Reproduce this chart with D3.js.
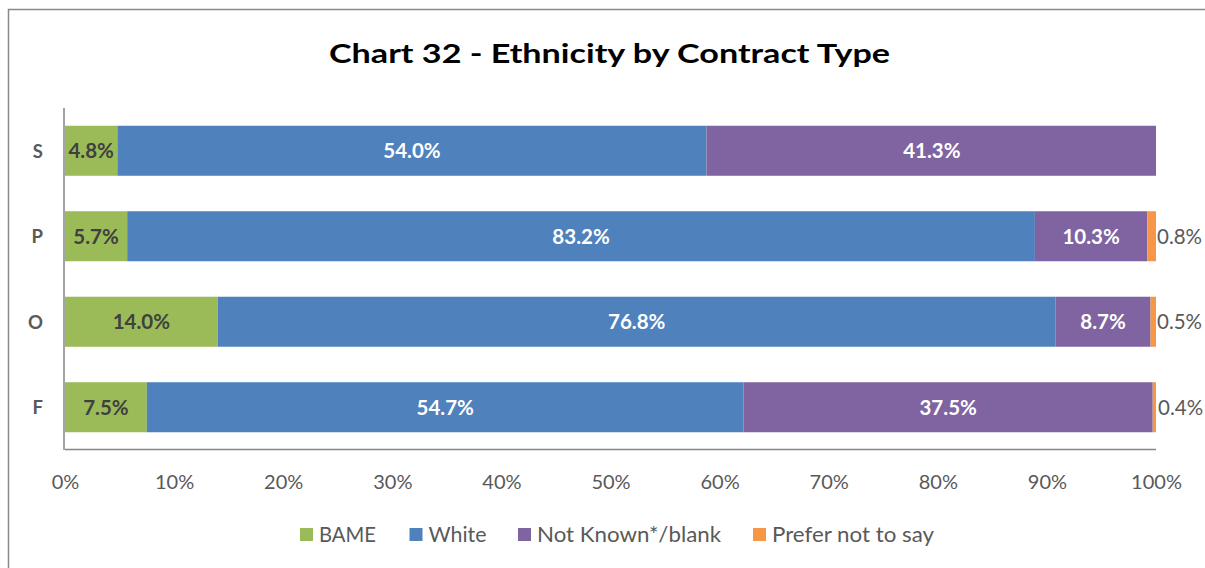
<!DOCTYPE html>
<html>
<head>
<meta charset="utf-8">
<script src="https://cdn.jsdelivr.net/npm/d3@7"></script>
<style>
  html, body { margin: 0; padding: 0; background: #fff; }
  svg { display: block; }
  text { font-family: Lato, "Open Sans", sans-serif; }
</style>
</head>
<body>
<svg id="chart" width="1205" height="568"></svg>
<script>
// ---- Data ----
const title = "Chart 32 - Ethnicity by Contract Type";
const categories = ["S", "P", "O", "F"];
const seriesNames = ["BAME", "White", "Not Known*/blank", "Prefer not to say"];
const bame = [4.8, 5.7, 14.0, 7.5];
const white = [54.0, 83.2, 76.8, 54.7];
const notKnown = [41.3, 10.3, 8.7, 37.5];
const preferNot = [null, 0.8, 0.5, 0.4];
const tickValues = [0, 10, 20, 30, 40, 50, 60, 70, 80, 90, 100];

const colors = ["#9BBB59", "#4F81BD", "#8064A2", "#F79646"];
const labelColors = ["#404040", "#ffffff", "#ffffff", "#595959"];

const svg = d3.select("#chart");
const W = 1205, H = 568;
const plot = { left: 65, right: 1156, top: 108, bottom: 450 };

// chart border
svg.append("rect")
  .attr("x", 8.5).attr("y", 9.5)
  .attr("width", W + 20).attr("height", H + 20)
  .attr("fill", "#fff").attr("stroke", "#898989").attr("stroke-width", 1.5);

// title
svg.append("text")
  .attr("x", 329).attr("y", 63)
  .attr("text-anchor", "start")
  .attr("font-size", 26).attr("font-weight", "bold")
  .attr("fill", "#000")
  .attr("textLength", 561)
  .attr("lengthAdjust", "spacingAndGlyphs")
  .text(title);

const x = d3.scaleLinear().domain([0, 100]).range([plot.left, plot.right]);
const y = d3.scaleBand().domain(categories)
  .range([plot.top, plot.bottom])
  .paddingInner(0.415).paddingOuter(0.2076);

const seriesData = [bame, white, notKnown, preferNot];

// stacked rows
const rows = categories.map((c, i) => {
  let acc = 0;
  return seriesData.map((s, k) => {
    const v = s[i] == null ? 0 : s[i];
    const seg = { cat: c, k, v, raw: s[i], x0: acc, x1: acc + v };
    acc += v;
    return seg;
  });
});

const segs = rows.flat().filter(d => d.v > 0);

svg.append("g").selectAll("rect")
  .data(segs)
  .join("rect")
  .attr("x", d => x(d.x0))
  .attr("y", d => y(d.cat))
  .attr("width", d => Math.max(0, x(Math.min(100, d.x1)) - x(d.x0)))
  .attr("height", y.bandwidth())
  .attr("fill", d => colors[d.k]);

// labels
svg.append("g").selectAll("text")
  .data(segs)
  .join("text")
  .attr("x", d => d.k === 3 ? x(d.x1) + 1 : (x(d.x0) + x(d.x1)) / 2)
  .attr("y", d => y(d.cat) + y.bandwidth() / 2)
  .attr("dy", "0.37em")
  .attr("text-anchor", d => d.k === 3 ? "start" : "middle")
  .attr("font-size", d => d.k === 3 ? 20.5 : 20.5)
  .attr("font-weight", d => d.k === 3 ? "normal" : "bold")
  .attr("fill", d => labelColors[d.k])
  .text(d => d.raw.toFixed(1) + "%");

// category labels
svg.append("g").selectAll("text")
  .data(categories)
  .join("text")
  .attr("x", 43)
  .attr("y", d => y(d) + y.bandwidth() / 2)
  .attr("dy", "0.37em")
  .attr("text-anchor", "end")
  .attr("font-size", 18.5).attr("font-weight", "bold")
  .attr("fill", "#595959")
  .text(d => d);

// x axis
const xAxis = d3.axisBottom(x)
  .tickValues(tickValues)
  .tickFormat(d => d + "%")
  .tickSize(0)
  .tickPadding(26);

const gx = svg.append("g").attr("transform", `translate(0,${plot.bottom - 1})`).call(xAxis);
gx.select(".domain").remove();
gx.selectAll("text")
  .attr("font-family", "Lato, 'Open Sans', sans-serif")
  .attr("font-size", 20).attr("fill", "#595959");

// axis lines
svg.append("line")
  .attr("x1", plot.left).attr("x2", plot.right)
  .attr("y1", plot.bottom - 0.5).attr("y2", plot.bottom - 0.5)
  .attr("stroke", "#868686").attr("stroke-width", 1.5);
svg.append("line")
  .attr("x1", plot.left - 1).attr("x2", plot.left - 1)
  .attr("y1", plot.top).attr("y2", plot.bottom)
  .attr("stroke", "#868686").attr("stroke-width", 1.5);

// legend
const legendX = [300, 409.5, 518, 753];
const legendW = [57, 58, 184, 162];
const items = svg.append("g").selectAll("g")
  .data(seriesNames)
  .join("g")
  .attr("transform", (d, i) => `translate(${legendX[i]},0)`);
items.append("rect")
  .attr("width", 13).attr("height", 13)
  .attr("y", 528)
  .attr("fill", (d, i) => colors[i]);
items.append("text")
  .attr("x", 19).attr("y", 542)
  .attr("font-size", 21).attr("fill", "#595959")
  .attr("textLength", (d, i) => legendW[i])
  .attr("lengthAdjust", "spacingAndGlyphs")
  .text(d => d);
</script>
</body>
</html>
